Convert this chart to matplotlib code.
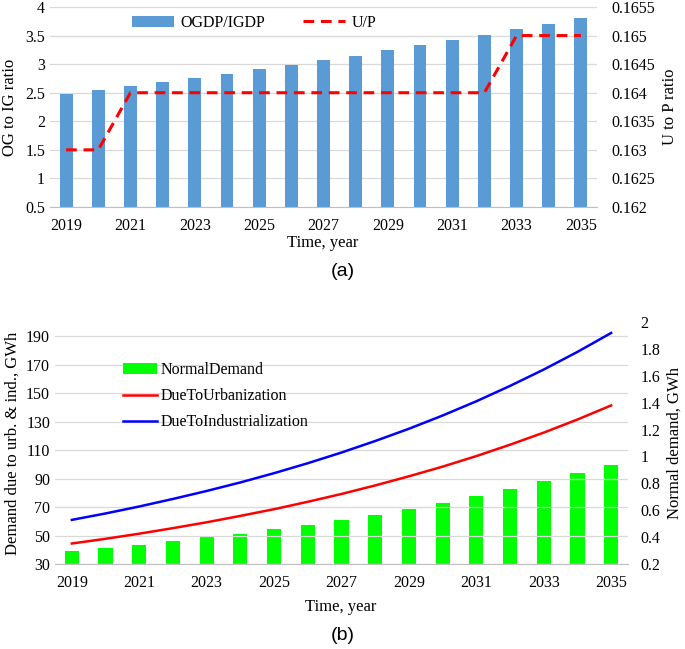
import matplotlib
matplotlib.use("Agg")
import matplotlib.pyplot as plt
import numpy as np

plt.rcParams['font.family'] = ['Liberation Serif', 'DejaVu Serif']

years = list(range(2019, 2036))

# (a) output-growth ratio and urban-to-population ratio
og_ig_ratio = [2.47, 2.54, 2.61, 2.68, 2.76, 2.83, 2.91, 2.99, 3.07,
               3.15, 3.24, 3.33, 3.42, 3.51, 3.61, 3.70, 3.80]
u_p_ratio = [0.163, 0.163, 0.164, 0.164, 0.164, 0.164, 0.164, 0.164, 0.164,
             0.164, 0.164, 0.164, 0.164, 0.164, 0.165, 0.165, 0.165]

# (b) demand, GWh
normal_demand = [0.298, 0.320, 0.342, 0.370, 0.399, 0.426, 0.460, 0.492, 0.529,
                 0.568, 0.610, 0.657, 0.704, 0.758, 0.814, 0.876, 0.940]
due_urban = [44.4, 47.7, 51.3, 55.2, 59.3, 63.8, 68.5, 73.7, 79.2,
             85.2, 91.6, 98.4, 105.8, 113.8, 122.3, 131.5, 141.4]
due_industry = [61.0, 65.5, 70.4, 75.7, 81.3, 87.3, 93.8, 100.8, 108.3,
                116.4, 125.0, 134.3, 144.3, 155.1, 166.6, 179.0, 192.3]

W, H = 685, 649
fig = plt.figure(figsize=(W / 100, H / 100), dpi=100)


def box(x0, y0, x1, y1):
    # pixel box (top-left origin) -> figure fraction rect
    return [x0 / W, 1 - y1 / H, (x1 - x0) / W, (y1 - y0) / H]


def style_axes(ax, ax2):
    for a in (ax, ax2):
        for s in a.spines.values():
            s.set_visible(False)
        a.tick_params(length=0, labelsize=11.5)
    ax.spines['bottom'].set_visible(True)
    ax.spines['bottom'].set_color('#BFBFBF')
    ax.grid(axis='y', color='#D9D9D9', linewidth=0.9)
    ax.set_axisbelow(True)
    ax.set_xlim(-0.5, len(years) - 0.5)
    ticks = list(range(0, len(years), 2))
    ax.set_xticks(ticks)
    ax.set_xticklabels([str(years[i]) for i in ticks])
    ax.tick_params(axis='x', pad=8)


x = np.arange(len(years))

# ---------- (a) ----------
ax1 = fig.add_axes(box(50, 7, 597, 207))
ax1b = ax1.twinx()
ax1.bar(x, og_ig_ratio, width=0.4, color='#5B9BD5', label='OGDP/IGDP', zorder=2)
ax1b.plot(x, u_p_ratio, color='#FF0000', linewidth=2.2, linestyle=(0, (3.5, 2.2)),
          label='U/P')
ax1.set_ylim(0.5, 4)
ax1.set_yticks(np.arange(0.5, 4.01, 0.5))
ax1.set_yticklabels(['0.5', '1', '1.5', '2', '2.5', '3', '3.5', '4'])
ax1b.set_ylim(0.162, 0.1655)
ax1b.set_yticks([0.162, 0.1625, 0.163, 0.1635, 0.164, 0.1645, 0.165, 0.1655])
ax1b.set_yticklabels(['0.162', '0.1625', '0.163', '0.1635', '0.164', '0.1645',
                      '0.165', '0.1655'])
style_axes(ax1, ax1b)
ax1b.tick_params(axis='y', pad=10)
fig.text(10 / W, 1 - 107 / H, 'OG to IG ratio', rotation=90, fontsize=12,
         ha='center', va='center')
fig.text(670 / W, 1 - 107 / H, 'U to P ratio', rotation=90, fontsize=12,
         ha='center', va='center')
fig.text(323 / W, 1 - 243 / H, 'Time, year', fontsize=12, ha='center', va='center')
fig.text(343 / W, 1 - 271 / H, '(a)', fontsize=14, family='Liberation Sans',
         ha='center', va='center')
h1, l1 = ax1.get_legend_handles_labels()
h2, l2 = ax1b.get_legend_handles_labels()
ax1b.legend(h1 + h2, l1 + l2, ncol=2, frameon=False, fontsize=11.5,
            loc='center left', bbox_to_anchor=(118 / W, 1 - 23 / H),
            bbox_transform=fig.transFigure, handlelength=2.6,
            handletextpad=0.4, columnspacing=2.4)

# ---------- (b) ----------
ax2 = fig.add_axes(box(55, 322, 628, 564))
ax2b = ax2.twinx()
ax2b.bar(x, normal_demand, width=0.42, color='#00FF00', label='NormalDemand', zorder=1)
ax2.plot(x, due_urban, color='#FF0000', linewidth=1.8, label='DueToUrbanization', zorder=3)
ax2.plot(x, due_industry, color='#0000FF', linewidth=1.8,
         label='DueToIndustrialization', zorder=3)
ax2.set_zorder(ax2b.get_zorder() + 1)
ax2.patch.set_visible(False)
ax2.set_ylim(30, 200)
ax2.set_yticks(np.arange(30, 191, 20))
ax2b.set_ylim(0.2, 2.0)
ax2b.set_yticks(np.arange(0.2, 2.01, 0.2))
ax2b.set_yticklabels(['0.2', '0.4', '0.6', '0.8', '1', '1.2', '1.4', '1.6', '1.8', '2'])
style_axes(ax2, ax2b)
ax2b.tick_params(axis='y', pad=9)
ax2b.grid(False)
fig.text(13 / W, 1 - 443 / H, 'Demand due to urb. & ind., GWh', rotation=90,
         fontsize=12, ha='center', va='center')
fig.text(675 / W, 1 - 443 / H, 'Normal demand, GWh', rotation=90, fontsize=12,
         ha='center', va='center')
fig.text(341 / W, 1 - 607 / H, 'Time, year', fontsize=12, ha='center', va='center')
fig.text(343 / W, 1 - 635 / H, '(b)', fontsize=14, family='Liberation Sans',
         ha='center', va='center')
hb, lb = ax2b.get_legend_handles_labels()
hl, ll = ax2.get_legend_handles_labels()
ax2.legend(hb + hl, lb + ll, frameon=False, fontsize=11.5, loc='upper left',
           bbox_to_anchor=(109 / W, 1 - 348 / H), bbox_transform=fig.transFigure,
           handlelength=2.1, handletextpad=0.2, labelspacing=0.62)

fig.savefig('out.png', dpi=100)
